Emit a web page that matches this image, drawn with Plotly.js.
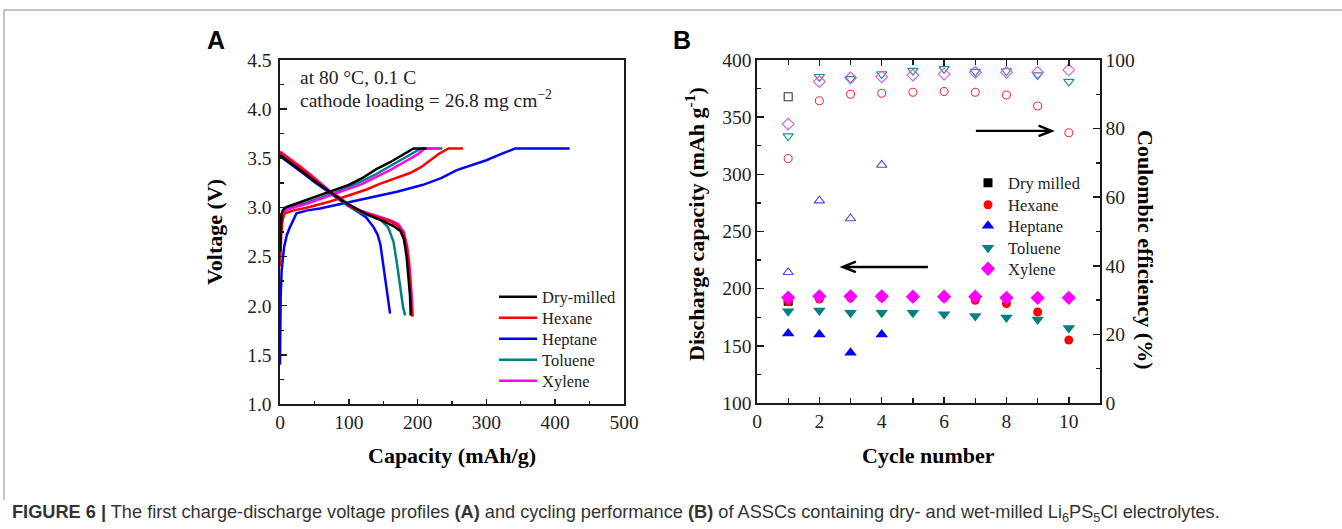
<!DOCTYPE html>
<html>
<head>
<meta charset="utf-8">
<script src="https://cdn.plot.ly/plotly-3.0.1.min.js"></script>
<style>
  html, body { margin: 0; padding: 0; background: #fff; }
  #chart { width: 1342px; height: 529px; }
</style>
</head>
<body>
<div id="chart"></div>
<script>
// ---------------- Panel A: first charge/discharge voltage profiles ----------------
const seriesNames = ['Dry-milled', 'Hexane', 'Heptane', 'Toluene', 'Xylene'];
const seriesColors = ['#000000', '#ff0000', '#0000ff', '#008080', '#ff00ff'];

const dryChargeCap = [0, 1, 2, 4, 8, 20, 40, 60, 80, 100, 120, 140, 160, 175, 185, 194, 213];
const dryChargeV   = [2.55, 2.8, 2.93, 2.97, 3.0, 3.03, 3.08, 3.13, 3.18, 3.23, 3.30, 3.39, 3.46, 3.52, 3.56, 3.60, 3.60];
const dryDischCap  = [0, 10, 20, 35, 50, 70, 90, 110, 130, 150, 165, 175, 180, 184, 187, 189, 190];
const dryDischV    = [3.53, 3.48, 3.43, 3.35, 3.27, 3.17, 3.07, 2.99, 2.92, 2.86, 2.81, 2.76, 2.68, 2.50, 2.30, 2.10, 1.90];

const hexChargeCap = [0, 1, 2, 4, 7, 20, 40, 73, 100, 125, 145, 170, 189, 205, 218, 232, 245, 266];
const hexChargeV   = [2.4, 2.55, 2.75, 2.88, 2.94, 2.97, 3.0, 3.06, 3.12, 3.18, 3.24, 3.30, 3.35, 3.41, 3.48, 3.55, 3.60, 3.60];
const hexDischCap  = [0, 10, 29, 45, 58, 72, 87, 100, 116, 130, 145, 160, 170, 179, 184, 187, 190, 192];
const hexDischV    = [3.56, 3.51, 3.41, 3.32, 3.24, 3.16, 3.09, 3.02, 2.96, 2.93, 2.90, 2.86, 2.82, 2.74, 2.60, 2.43, 2.15, 1.89];

const hepChargeCap = [0, 0.5, 1, 2.4, 6, 10, 14.5, 24, 40, 58, 90, 131, 170, 208, 235, 257, 280, 300, 320, 342, 421];
const hepChargeV   = [1.4, 1.8, 2.1, 2.36, 2.6, 2.72, 2.80, 2.94, 2.97, 2.99, 3.04, 3.10, 3.16, 3.23, 3.30, 3.38, 3.43, 3.48, 3.54, 3.60, 3.60];
const hepDischCap  = [0, 10, 20, 35, 50, 70, 90, 110, 125, 136, 142, 146, 150, 155, 160];
const hepDischV    = [3.52, 3.47, 3.42, 3.34, 3.26, 3.16, 3.06, 2.97, 2.90, 2.80, 2.72, 2.62, 2.43, 2.16, 1.92];

const tolChargeCap = [0, 1, 2, 4, 8, 20, 40, 60, 80, 100, 120, 140, 160, 180, 195, 205, 236];
const tolChargeV   = [2.55, 2.78, 2.9, 2.95, 2.98, 3.01, 3.05, 3.10, 3.15, 3.21, 3.27, 3.34, 3.42, 3.50, 3.56, 3.60, 3.60];
const tolDischCap  = [0, 10, 29, 45, 58, 72, 87, 100, 116, 130, 145, 157, 165, 170, 175, 179, 182];
const tolDischV    = [3.55, 3.50, 3.40, 3.31, 3.23, 3.15, 3.08, 3.01, 2.95, 2.92, 2.88, 2.80, 2.65, 2.43, 2.20, 1.98, 1.90];

const xylChargeCap = [0, 1, 2, 4, 8, 20, 40, 60, 80, 100, 120, 140, 160, 180, 200, 210, 232];
const xylChargeV   = [2.6, 2.8, 2.9, 2.94, 2.97, 3.0, 3.04, 3.09, 3.14, 3.19, 3.24, 3.31, 3.38, 3.46, 3.54, 3.60, 3.60];
const xylDischCap  = [0, 10, 29, 45, 58, 72, 87, 100, 116, 130, 145, 160, 172, 180, 185, 188, 191, 193];
const xylDischV    = [3.57, 3.52, 3.42, 3.33, 3.25, 3.17, 3.10, 3.03, 2.97, 2.94, 2.91, 2.87, 2.83, 2.75, 2.60, 2.43, 2.15, 1.89];

const capTicks = [0, 100, 200, 300, 400, 500];
const voltTicks = [1.0, 1.5, 2.0, 2.5, 3.0, 3.5, 4.0, 4.5];

// ---------------- Panel B: cycling performance ----------------
const cycles = [1, 2, 3, 4, 5, 6, 7, 8, 9, 10];
const dryCycles = [1];
const dryCap = [189];
const dryCE = [89.3];
const hexaneCap = [189, 191, 192, 192.5, 192.5, 192, 189.8, 187, 179.6, 155];
const hexaneCE  = [71.3, 88.1, 90.0, 90.3, 90.6, 90.8, 90.6, 89.8, 86.6, 78.8];
const heptaneCycles = [1, 2, 3, 4];
const heptaneCap = [160.8, 159.9, 143.9, 159.9];
const heptaneCE  = [38.1, 59.0, 53.8, 69.4];
const tolueneCap = [180.2, 181, 179, 179, 179, 177.6, 176.1, 174.7, 173, 165.7];
const tolueneCE  = [77.8, 95.1, 94.5, 95.9, 96.9, 97.4, 96.6, 96.8, 95.6, 93.7];
const xyleneCap  = [192.2, 193.3, 193.3, 193.3, 193, 193, 193, 192, 192, 192];
const xyleneCE   = [81.3, 93.7, 94.8, 95.1, 95.6, 95.9, 96.4, 96.4, 96.4, 97.1];

const cycleTicks = [0, 2, 4, 6, 8, 10];
const capBTicks = [100, 150, 200, 250, 300, 350, 400];
const ceTicks = [0, 20, 40, 60, 80, 100];

// ---------------- build ----------------
const W = 1342, H = 529;
const px = v => v / W;
const py = v => 1 - v / H;
const SERIF = 'Liberation Serif, Times New Roman, serif';
const SANS = 'Liberation Sans, Arial, sans-serif';
const AXC = '#1a1a1a';

function joinCurve(c1, v1, c2, v2) {
  return { x: c1.concat([null], c2), y: v1.concat([null], v2) };
}
const curvesA = [
  joinCurve(dryChargeCap, dryChargeV, dryDischCap, dryDischV),
  joinCurve(hexChargeCap, hexChargeV, hexDischCap, hexDischV),
  joinCurve(hepChargeCap, hepChargeV, hepDischCap, hepDischV),
  joinCurve(tolChargeCap, tolChargeV, tolDischCap, tolDischV),
  joinCurve(xylChargeCap, xylChargeV, xylDischCap, xylDischV)
];
const legKey = n => (n === 1 ? 'legend' : 'legend' + n);

const drawOrderA = [2, 3, 4, 1, 0];
const traces = [];
drawOrderA.forEach(i => {
  traces.push({
    type: 'scatter', mode: 'lines', name: seriesNames[i],
    x: curvesA[i].x, y: curvesA[i].y, connectgaps: false,
    xaxis: 'x', yaxis: 'y', legend: legKey(i + 1),
    line: { color: seriesColors[i], width: 2.5 }
  });
});

const namesB = ['Dry milled', 'Hexane', 'Heptane', 'Toluene', 'Xylene'];
const xsB = [dryCycles, cycles, heptaneCycles, cycles, cycles];
const capsB = [dryCap, hexaneCap, heptaneCap, tolueneCap, xyleneCap];
const cesB = [dryCE, hexaneCE, heptaneCE, tolueneCE, xyleneCE];
const symB = ['square', 'circle', 'triangle-up', 'triangle-down', 'diamond'];
const sizeB = [9, 9, 11, 11, 11];
const openColB = ['#333333', '#ee3344', '#5548c8', '#1a9090', '#dd55dd'];
const openSizeB = [8, 8, 9, 9, 9];

for (let i = 0; i < 5; i++) {
  traces.push({
    type: 'scatter', mode: 'markers', name: namesB[i] + ' CE', showlegend: false,
    x: xsB[i], y: cesB[i], xaxis: 'x2', yaxis: 'y3',
    marker: { symbol: symB[i] + '-open', size: openSizeB[i], color: openColB[i], line: { width: 1.1, color: openColB[i] } }
  });
}
for (let i = 0; i < 5; i++) {
  traces.push({
    type: 'scatter', mode: 'markers', name: namesB[i],
    x: xsB[i], y: capsB[i], xaxis: 'x2', yaxis: 'y2', legend: legKey(i + 6),
    marker: { symbol: symB[i], size: sizeB[i], color: seriesColors[i], line: { width: 0 } }
  });
}

const tickFont = { family: SERIF, size: 19.5, color: '#222' };
const titleFont = { family: SERIF, size: 22, color: '#000' };

function axisBase(extra) {
  return Object.assign({
    showgrid: false, zeroline: false, showline: true, linecolor: AXC, linewidth: 1.6,
    ticks: 'inside', tickcolor: AXC, tickwidth: 1.5, ticklen: 7,
    tickfont: tickFont, fixedrange: true
  }, extra);
}

// arrows for panel B (in panel B data units)
const arrowRight = { x0: 7.02, x1: 9.45, y: 338 };
const arrowLeft  = { x0: 5.48, x1: 2.75, y: 219 };
function arrowPath(a) {
  const dir = a.x1 > a.x0 ? 1 : -1;
  const hx = a.x1 - dir * 0.42, hy = 4.6;
  return `M ${a.x0} ${a.y} L ${a.x1} ${a.y} M ${hx} ${a.y + hy} L ${a.x1} ${a.y} L ${hx} ${a.y - hy}`;
}

const layout = {
  width: W, height: H,
  margin: { l: 0, r: 0, t: 0, b: 0 },
  paper_bgcolor: '#fff', plot_bgcolor: 'rgba(0,0,0,0)',
  showlegend: true,
  xaxis: axisBase({
    domain: [px(280), px(624)], anchor: 'y', range: [0, 500],
    tickvals: capTicks, ticktext: capTicks.map(String), mirror: true, ticklen: 5,
    minor: { ticks: 'inside', dtick: 50, ticklen: 3, tickwidth: 1.3, tickcolor: AXC }
  }),
  yaxis: axisBase({
    domain: [py(404), py(60)], anchor: 'x', range: [1.0, 4.5],
    tickvals: voltTicks, ticktext: voltTicks.map(v => v.toFixed(1)), mirror: true,
    ticklabelstandoff: 3,
    minor: { ticks: 'inside', dtick: 0.25, ticklen: 4, tickwidth: 1.3, tickcolor: AXC }
  }),
  xaxis2: axisBase({
    domain: [px(757), px(1100)], anchor: 'y2', range: [0, 11],
    tickvals: cycleTicks, ticktext: cycleTicks.map(String), mirror: 'ticks', ticklen: 6,
    minor: { ticks: 'inside', dtick: 1, ticklen: 5, tickwidth: 1.3, tickcolor: AXC }
  }),
  yaxis2: axisBase({
    domain: [py(403), py(60)], anchor: 'x2', range: [100, 400],
    tickvals: capBTicks, ticktext: capBTicks.map(String),
    minor: { ticks: 'inside', dtick: 25, ticklen: 4, tickwidth: 1.3, tickcolor: AXC }
  }),
  yaxis3: axisBase({
    domain: [py(403), py(60)], anchor: 'x2', overlaying: 'y2', side: 'right', range: [0, 100],
    tickvals: ceTicks, ticktext: ceTicks.map(String),
    minor: { ticks: 'inside', dtick: 10, ticklen: 4, tickwidth: 1.3, tickcolor: AXC }
  }),
  shapes: [
    { type: 'line', xref: 'paper', yref: 'paper', x0: px(4), x1: 1, y0: py(10), y1: py(10), line: { color: '#8a8a8a', width: 1 } },
    { type: 'line', xref: 'paper', yref: 'paper', x0: px(4), x1: px(4), y0: py(10), y1: py(500), line: { color: '#8a8a8a', width: 1 } },
    { type: 'path', xref: 'x2', yref: 'y2', path: arrowPath(arrowRight), line: { color: '#000', width: 2.4 } },
    { type: 'path', xref: 'x2', yref: 'y2', path: arrowPath(arrowLeft), line: { color: '#000', width: 2.4 } }
  ],
  annotations: [
    { xref: 'paper', yref: 'paper', x: px(216), y: py(40), text: '<b>A</b>', showarrow: false,
      font: { family: SANS, size: 25, color: '#000' }, xanchor: 'center', yanchor: 'middle' },
    { xref: 'paper', yref: 'paper', x: px(682), y: py(40), text: '<b>B</b>', showarrow: false,
      font: { family: SANS, size: 25, color: '#000' }, xanchor: 'center', yanchor: 'middle' },
    { xref: 'paper', yref: 'paper', x: px(298), y: py(77), text: 'at 80 °C, 0.1 C', showarrow: false,
      font: { family: SERIF, size: 19.5, color: '#222' }, xanchor: 'left', yanchor: 'middle' },
    { xref: 'paper', yref: 'paper', x: px(298), y: py(99), text: 'cathode loading = 26.8 mg cm<sup>−2</sup>', showarrow: false,
      font: { family: SERIF, size: 19.5, color: '#222' }, xanchor: 'left', yanchor: 'middle' },
    { xref: 'paper', yref: 'paper', x: px(215), y: py(232), text: '<b>Voltage (V)</b>', showarrow: false, textangle: -90,
      font: titleFont, xanchor: 'center', yanchor: 'middle' },
    { xref: 'paper', yref: 'paper', x: px(452), y: py(455), text: '<b>Capacity (mAh/g)</b>', showarrow: false,
      font: titleFont, xanchor: 'center', yanchor: 'middle' },
    { xref: 'paper', yref: 'paper', x: px(695), y: py(224), text: '<b>Discharge capacity (mAh g<sup>-1</sup>)</b>', showarrow: false, textangle: -90,
      font: titleFont, xanchor: 'center', yanchor: 'middle' },
    { xref: 'paper', yref: 'paper', x: px(928), y: py(455), text: '<b>Cycle number</b>', showarrow: false,
      font: titleFont, xanchor: 'center', yanchor: 'middle' },
    { xref: 'paper', yref: 'paper', x: px(1146), y: py(250), text: '<b>Coulombic efficiency (%)</b>', showarrow: false, textangle: 90,
      font: titleFont, xanchor: 'center', yanchor: 'middle' },
    { xref: 'paper', yref: 'paper', x: px(10), y: py(513), showarrow: false, xanchor: 'left', yanchor: 'middle',
      text: '<b>FIGURE 6 |</b> The first charge-discharge voltage profiles <b>(A)</b> and cycling performance <b>(B)</b> of ASSCs containing dry- and wet-milled Li<sub>6</sub>PS<sub>5</sub>Cl electrolytes.',
      font: { family: SANS, size: 18.2, color: '#333' } }
  ]
};

// one legend box per entry so rows sit at the reference spacing
const rowsA = [297, 318, 339, 360, 381];
const rowsB = [183, 205, 226, 248, 269];
const legFont = { family: SERIF, size: 16.5, color: '#222' };
rowsA.forEach((r, k) => {
  layout[legKey(k + 1)] = { x: px(494), y: py(r), xanchor: 'left', yanchor: 'middle',
    bgcolor: 'rgba(0,0,0,0)', font: legFont, itemwidth: 38 };
});
rowsB.forEach((r, k) => {
  layout[legKey(k + 6)] = { x: px(968), y: py(r), xanchor: 'left', yanchor: 'middle',
    bgcolor: 'rgba(0,0,0,0)', font: legFont };
});

Plotly.newPlot('chart', traces, layout, { displayModeBar: false, staticPlot: true });
</script>
</body>
</html>
